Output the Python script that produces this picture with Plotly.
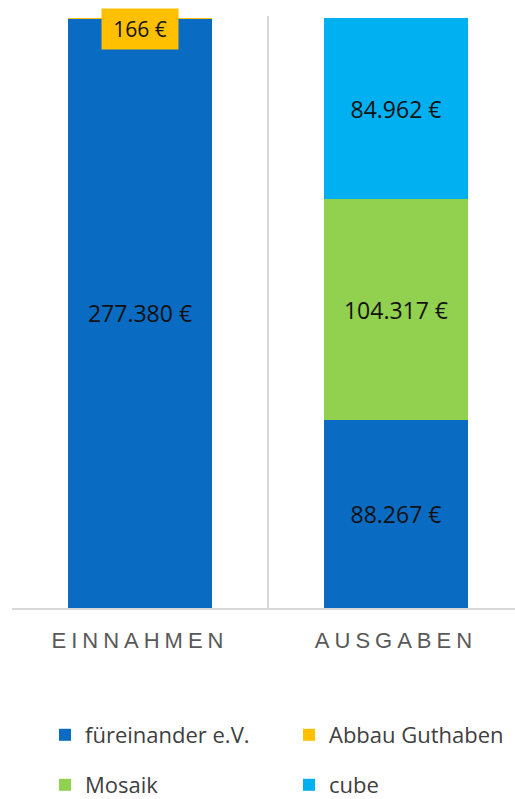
import plotly.graph_objects as go

categories = ["EINNAHMEN", "AUSGABEN"]
fuereinander = [277380, 88267]
abbau_guthaben = [166, None]
mosaik = [None, 104317]
cube = [None, 84962]

series_names = ["füreinander e.V.", "Abbau Guthaben", "Mosaik", "cube"]
colors = ["#0A6BC2", "#FFC000", "#92D050", "#00B0F0"]


def fmt(v):
    if v is None:
        return ""
    return f"{v:,}".replace(",", ".") + " €"


total = fuereinander[0] + abbau_guthaben[0]
label_font = dict(size=23, color="#111111", family="Open Sans, sans-serif")

fig = go.Figure()
series = [fuereinander, abbau_guthaben, mosaik, cube]
legends = ["legend", "legend2", "legend3", "legend4"]
for name, vals, col, lg in zip(series_names, series, colors, legends):
    fig.add_trace(go.Bar(
        x=categories, y=vals, name=name,
        marker=dict(color=col, line=dict(width=0)),
        text=[fmt(v) for v in vals],
        textposition="none" if name == "Abbau Guthaben" else "inside",
        insidetextanchor="middle",
        textangle=0,
        textfont=label_font,
        width=0.5625,
        legend=lg,
        showlegend=True,
        hoverinfo="skip",
    ))

fig.add_annotation(
    x=categories[0], y=total, xref="x", yref="y",
    text=fmt(abbau_guthaben[0]), showarrow=False,
    yanchor="middle", yshift=-11,
    bgcolor="#FFC000", width=74, height=38,
    font=dict(size=21, color="#111111", family="Open Sans, sans-serif"),
)

ticktext = [f'<span style="letter-spacing:5px">{c}</span>' for c in categories]

W, H = 515, 799
ml, mt, mb = 12, 16, 191
pw = W - ml
ph = H - mt - mb


def lx(px):
    return (px - ml) / pw


def ly(py):
    return (H - mb - py) / ph


leg_font = dict(size=22, color="#404040", family="Open Sans, sans-serif")
row1 = 735
col1, col2 = 45, 289

fig.update_layout(
    width=W, height=H,
    barmode="stack",
    showlegend=True,
    hovermode=False,
    paper_bgcolor="white", plot_bgcolor="white",
    margin=dict(l=ml, r=0, t=mt, b=mb, autoexpand=False),
    font=dict(family="Open Sans, sans-serif"),
    xaxis=dict(
        range=[-0.5, 1.465],
        tickmode="array", tickvals=categories, ticktext=ticktext,
        tickson="boundaries", ticks="",
        showgrid=True, gridcolor="#D9D9D9", gridwidth=1.5,
        showline=True, linecolor="#D9D9D9", linewidth=1.5,
        tickfont=dict(size=22, color="#595959", family="Liberation Sans, Arial, sans-serif"),
        ticklabelstandoff=12,
    ),
    yaxis=dict(range=[0, 278600], visible=False, showgrid=False, zeroline=False),
    legend=dict(x=lx(col1), y=ly(row1), xanchor="left", yanchor="middle", font=leg_font),
    legend2=dict(x=lx(col2), y=ly(row1), xanchor="left", yanchor="middle", font=leg_font),
    legend3=dict(x=lx(col1), y=ly(H + 7), xanchor="left", yanchor="bottom", font=leg_font),
    legend4=dict(x=lx(col2), y=ly(H + 7), xanchor="left", yanchor="bottom", font=leg_font),
)

fig.write_html(
    "out.html",
    config={"displayModeBar": False},
    post_script="document.body.style.margin='0';document.body.style.overflow='hidden';",
)
